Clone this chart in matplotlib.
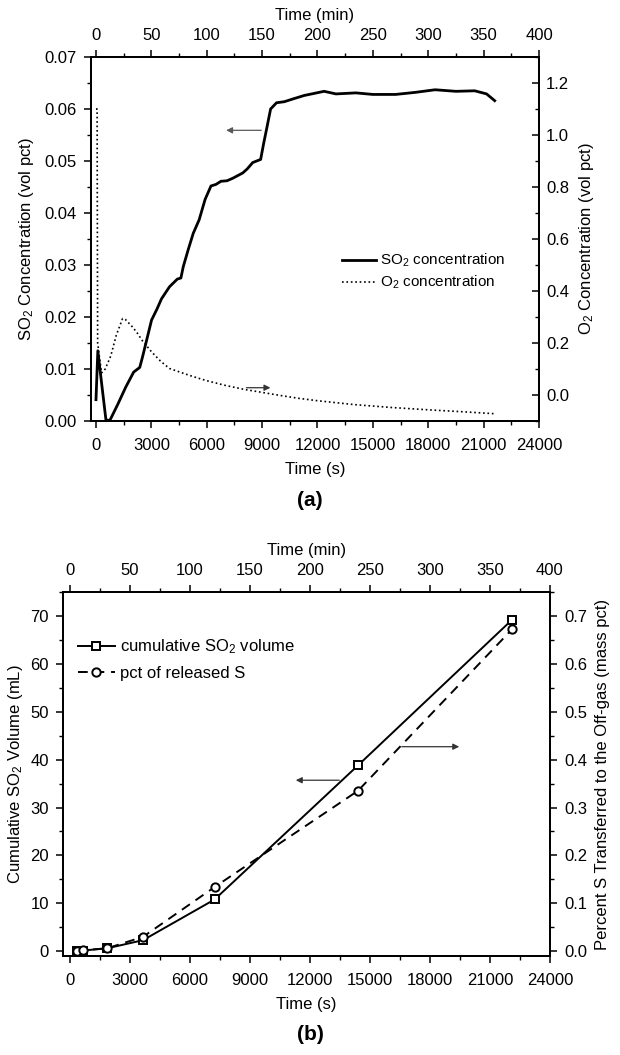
import matplotlib
matplotlib.use('Agg')
from matplotlib import pyplot as plt
from matplotlib.ticker import MultipleLocator, FormatStrFormatter

plt.rcParams['font.family'] = ['Liberation Sans', 'DejaVu Sans']
plt.rcParams['mathtext.default'] = 'regular'
plt.rcParams['font.size'] = 12

# panel (a): SO2 concentration (vol pct) vs time (s)
so2_t = [0, 100, 280, 540, 750, 1180, 1610, 2040, 2370, 2520, 3010, 3300, 3550,
         3980, 4410, 4600, 4730, 5000, 5270, 5590, 5910, 6230, 6500, 6770, 7100,
         7420, 7950, 8200, 8490, 8920, 9090, 9240, 9460, 9780, 10200, 10640,
         11280, 12360, 13000, 14080, 15000, 16230, 17300, 18370, 19500, 20520,
         21160, 21600]
so2_c = [0.0041, 0.0135, 0.0080, 0.0002, 0.0001, 0.0032, 0.0065, 0.0094, 0.0103,
         0.0123, 0.0194, 0.0215, 0.0235, 0.0258, 0.0273, 0.0275, 0.0297, 0.0330,
         0.0361, 0.0387, 0.0426, 0.0452, 0.0455, 0.0461, 0.0462, 0.0467, 0.0477,
         0.0485, 0.0497, 0.0503, 0.0535, 0.0561, 0.0600, 0.0612, 0.0614, 0.0619,
         0.0626, 0.0634, 0.0629, 0.0631, 0.0628, 0.0628, 0.0632, 0.0637, 0.0634,
         0.0635, 0.0629, 0.0616]

# O2 concentration (vol pct), right axis
o2_t = [0, 60, 90, 300, 500, 800, 1100, 1440, 1600, 2000, 2260, 2500, 3010, 3500,
        3980, 5000, 5480, 6000, 7000, 8000, 9000, 10000, 11000, 12000, 14000,
        16000, 18000, 20000, 21600]
o2_c = [1.10, 1.10, 0.20, 0.085, 0.10, 0.15, 0.23, 0.294, 0.29, 0.26, 0.236, 0.21,
        0.166, 0.13, 0.102, 0.077, 0.066, 0.055, 0.037, 0.022, 0.010, -0.002,
        -0.013, -0.022, -0.037, -0.048, -0.057, -0.065, -0.072]

# panel (b): cumulative SO2 volume (mL) and pct of released S
b_t = [330, 630, 1850, 3650, 7230, 14400, 22100]
b_vol = [0.14, 0.14, 0.6, 2.3, 10.8, 38.8, 69.2]
b_pct = [0.001, 0.002, 0.006, 0.030, 0.134, 0.335, 0.672]

fig = plt.figure(figsize=(6.2, 10.55), dpi=100)


def style(ax):
    ax.tick_params(axis='both', which='major', length=5, width=1.1, pad=5)
    ax.tick_params(axis='both', which='minor', length=3, width=1.0)
    for s in ax.spines.values():
        s.set_linewidth(1.3)


# ---- (a)
ax = fig.add_axes([91/620, 1 - 421/1055, 448/620, 364/1055])
ax.plot(so2_t, so2_c, color='black', lw=2.0, label='SO$_2$ concentration')
ax.set_xlim(-270, 24000)
ax.set_ylim(0, 0.07)
ax.xaxis.set_major_locator(MultipleLocator(3000))
ax.xaxis.set_minor_locator(MultipleLocator(1500))
ax.yaxis.set_major_locator(MultipleLocator(0.01))
ax.yaxis.set_minor_locator(MultipleLocator(0.005))
ax.yaxis.set_major_formatter(FormatStrFormatter('%.2f'))
style(ax)
ax.tick_params(which='both', direction='out')
ax.tick_params(axis='x', pad=7)
ax.set_xlabel('Time (s)', labelpad=7)
ax.set_ylabel('SO$_2$ Concentration (vol pct)', labelpad=6)

ax2 = ax.twinx()
ax2.plot(o2_t, o2_c, color='black', lw=1.2, ls=':', label='O$_2$ concentration')
ax2.set_ylim(-0.1, 1.3)
ax2.yaxis.set_major_locator(MultipleLocator(0.2))
ax2.yaxis.set_minor_locator(MultipleLocator(0.1))
ax2.yaxis.set_major_formatter(FormatStrFormatter('%.1f'))
style(ax2)
ax2.tick_params(which='both', direction='in')
ax2.set_ylabel('O$_2$ Concentration (vol pct)', rotation=90, labelpad=6)

ax3 = ax.twiny()
ax3.set_xlim(-270 / 60, 400)
ax3.xaxis.set_major_locator(MultipleLocator(50))
ax3.xaxis.set_minor_locator(MultipleLocator(25))
style(ax3)
ax3.tick_params(which='both', direction='out')
ax3.set_xlabel('Time (min)', labelpad=6)

h1, l1 = ax.get_legend_handles_labels()
h2, l2 = ax2.get_legend_handles_labels()
ax.legend(h1 + h2, l1 + l2, loc='center left', bbox_to_anchor=(0.53, 0.41),
          frameon=False, fontsize=11, handlelength=2.2, handletextpad=0.3,
          labelspacing=0.3)

ax.annotate('', xy=(6900, 0.0559), xytext=(9100, 0.0559),
            arrowprops=dict(arrowstyle='-|>', color='0.35', lw=0.9,
                            mutation_scale=9))
ax2.annotate('', xy=(9600, 0.028), xytext=(8000, 0.028),
             arrowprops=dict(arrowstyle='-|>', color='0.2', lw=0.9,
                             mutation_scale=9))

fig.text(0.5, 1 - 500/1055, '(a)', ha='center', va='center',
         fontsize=15, fontweight='bold')

# ---- (b)
bx = fig.add_axes([63/620, 1 - 956/1055, 487/620, 364/1055])
bx.plot(b_t, b_vol, color='black', lw=1.4, marker='s', ms=6, mfc='white',
        mew=1.4, label='cumulative SO$_2$ volume')
bx.set_xlim(-350, 24000)
bx.set_ylim(-1, 75)
bx.xaxis.set_major_locator(MultipleLocator(3000))
bx.xaxis.set_minor_locator(MultipleLocator(1500))
bx.yaxis.set_major_locator(MultipleLocator(10))
bx.yaxis.set_minor_locator(MultipleLocator(5))
style(bx)
bx.tick_params(which='both', direction='out')
bx.tick_params(axis='x', pad=7)
bx.set_xlabel('Time (s)', labelpad=7)
bx.set_ylabel('Cumulative SO$_2$ Volume (mL)', labelpad=4)

bx2 = bx.twinx()
bx2.plot(b_t, b_pct, color='black', lw=1.4, ls=(0, (5, 3.5)), marker='o',
         ms=6, mfc='white', mew=1.4, label='pct of released S')
bx2.set_ylim(-0.01, 0.75)
bx2.yaxis.set_major_locator(MultipleLocator(0.1))
bx2.yaxis.set_minor_locator(MultipleLocator(0.05))
bx2.yaxis.set_major_formatter(FormatStrFormatter('%.1f'))
style(bx2)
bx2.tick_params(which='both', direction='out')
bx2.set_ylabel('Percent S Transferred to the Off-gas (mass pct)', rotation=90,
               labelpad=6)

bx3 = bx.twiny()
bx3.set_xlim(-350 / 60, 400)
bx3.xaxis.set_major_locator(MultipleLocator(50))
bx3.xaxis.set_minor_locator(MultipleLocator(25))
style(bx3)
bx3.tick_params(which='both', direction='out')
bx3.set_xlabel('Time (min)', labelpad=6)

g1, m1 = bx.get_legend_handles_labels()
g2, m2 = bx2.get_legend_handles_labels()
bx.legend(g1 + g2, m1 + m2, loc='center left', bbox_to_anchor=(0.0, 0.815),
          frameon=False, fontsize=12, handlelength=2.2, handletextpad=0.3,
          labelspacing=0.6)

bx.annotate('', xy=(11150, 35.7), xytext=(13600, 35.7),
            arrowprops=dict(arrowstyle='-|>', color='0.2', lw=0.9,
                            mutation_scale=9))
bx2.annotate('', xy=(19600, 0.427), xytext=(16450, 0.427),
             arrowprops=dict(arrowstyle='-|>', color='0.2', lw=0.9,
                             mutation_scale=9))

fig.text(0.5, 1 - 1035/1055, '(b)', ha='center', va='center',
         fontsize=15, fontweight='bold')

fig.savefig('out.png', dpi=100)
